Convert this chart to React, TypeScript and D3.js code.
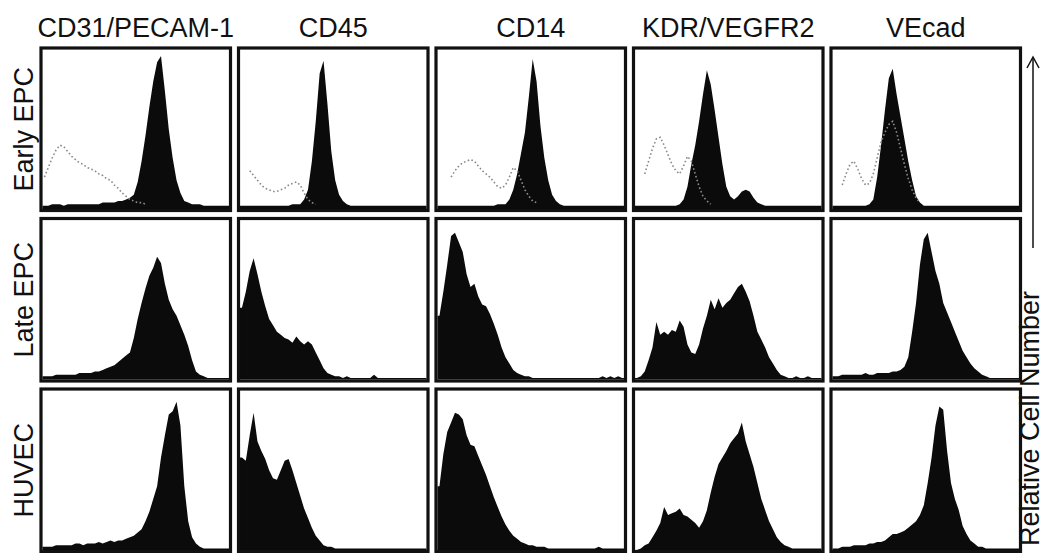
import React from "react";
import * as d3 from "d3";

// Flow cytometry histograms: rows are cell populations, columns are surface markers.
// Each series holds 48 channel bins (log fluorescence, left to right), as % of panel height.

const cellTypes = ["Early EPC", "Late EPC", "HUVEC"];
const markers = ["CD31/PECAM-1", "CD45", "CD14", "KDR/VEGFR2", "VEcad"];
const yAxisLabel = "Relative Cell Number";

// Early EPC — stained
const earlyCD31 = [2,2,3,3,3,2,3,3,3,3,3,3,3,3,3,4,4,4,4,5,5,6,7,9,17,30,46,64,80,92,96,74,50,32,18,10,5,4,3,3,3,2,2,2,2,2,2,2];
const earlyCD45 = [2,2,2,2,2,2,2,2,2,2,2,2,2,3,3,3,6,12,30,55,85,93,66,36,18,9,5,3,2,2,2,2,2,2,2,2,2,2,2,2,2,2,2,2,2,2,2,2];
const earlyCD14 = [2,2,2,2,2,2,2,2,2,2,2,2,2,2,2,3,3,3,6,12,22,35,48,70,94,80,52,32,18,9,5,3,2,2,2,2,2,2,2,2,2,2,2,2,2,2,2,2];
const earlyKDR = [2,2,2,2,2,2,2,2,2,2,2,3,6,14,28,40,55,72,87,78,62,45,28,14,8,6,8,11,12,11,7,4,3,2,2,2,2,2,2,2,2,2,2,2,2,2,2,2];
const earlyVEcad = [2,2,2,2,2,2,2,2,2,3,6,20,40,62,82,88,72,58,44,30,18,8,4,2,2,2,2,2,2,2,2,2,2,2,2,2,2,2,2,2,2,2,2,2,2,2,2,2];

// Early EPC — isotype controls (null = no events drawn)
const isoCD31 = [20,26,32,37,40,39,36,33,31,29,28,26,25,24,22,21,19,18,15,13,10,8,6,5,4,4,3,null,null,null,null,null,null,null,null,null,null,null,null,null,null,null,null,null,null,null,null,null];
const isoCD45 = [null,null,24,21,18,15,13,12,11,11,12,13,15,16,17,15,10,6,4,3,null,null,null,null,null,null,null,null,null,null,null,null,null,null,null,null,null,null,null,null,null,null,null,null,null,null,null,null];
const isoCD14 = [null,null,null,20,24,27,29,30,31,30,27,24,22,20,17,14,13,15,20,26,24,18,12,8,5,4,null,null,null,null,null,null,null,null,null,null,null,null,null,null,null,null,null,null,null,null,null,null];
const isoKDR = [null,null,22,30,38,44,45,40,34,28,24,22,27,33,30,22,14,8,5,3,null,null,null,null,null,null,null,null,null,null,null,null,null,null,null,null,null,null,null,null,null,null,null,null,null,null,null,null];
const isoVEcad = [null,null,15,22,28,30,25,19,15,16,22,32,42,48,53,55,48,38,28,19,12,7,4,null,null,null,null,null,null,null,null,null,null,null,null,null,null,null,null,null,null,null,null,null,null,null,null,null];

// Late EPC
const lateCD31 = [2,2,2,3,3,3,3,3,3,4,4,4,4,5,5,6,7,8,9,11,13,15,17,26,38,48,57,65,70,77,73,60,50,44,40,34,28,21,12,5,3,2,1,1,1,1,1,1];
const lateCD45 = [45,55,68,76,66,55,46,38,34,30,28,26,25,23,27,24,22,24,22,17,12,7,4,3,2,2,1,2,1,1,1,1,1,1,3,1,1,1,1,1,1,1,1,1,1,1,1,1];
const lateCD14 = [40,55,72,90,92,86,80,66,58,60,52,47,46,41,35,28,20,14,10,6,4,3,2,2,1,1,1,1,1,1,1,1,1,1,1,1,1,1,1,1,1,1,2,1,2,1,2,1];
const lateKDR = [1,2,5,12,20,36,28,30,28,31,30,37,33,22,17,16,22,32,40,50,44,51,45,48,50,54,58,60,55,49,40,30,25,20,14,10,6,3,2,1,1,2,1,1,2,1,1,1];
const lateVEcad = [2,2,3,3,3,3,3,3,4,3,3,4,4,4,4,5,5,6,8,14,30,48,72,88,92,80,68,60,48,42,36,30,24,18,14,10,7,5,3,2,1,1,1,1,1,1,1,1];

// HUVEC
const huvecCD31 = [2,2,2,3,3,3,3,3,4,4,3,4,4,4,5,4,5,6,5,6,6,7,8,9,11,13,18,24,32,40,58,72,85,87,93,78,40,18,8,4,2,1,1,1,1,1,1,1];
const huvecCD45 = [58,56,72,86,68,62,57,50,45,44,50,56,57,50,42,34,26,20,14,9,6,3,2,2,1,1,1,1,1,1,1,1,1,1,1,1,1,1,1,1,1,1,1,1,1,1,1,1];
const huvecCD14 = [40,60,74,80,86,85,82,72,66,65,59,53,47,40,33,27,21,16,12,9,7,5,4,3,3,2,2,2,1,1,1,1,1,1,1,1,1,1,1,1,1,2,1,1,1,1,1,1];
const huvecKDR = [0,1,3,4,8,12,17,27,22,23,24,26,22,21,19,17,14,18,25,36,46,54,58,62,67,70,73,80,68,60,52,42,32,25,18,13,8,5,3,2,1,1,1,1,1,1,1,1];
const huvecVEcad = [1,1,2,2,2,3,3,3,3,4,4,5,5,6,8,10,10,11,12,14,16,18,22,28,42,58,78,90,88,62,42,32,25,15,10,6,4,2,2,1,1,1,1,1,1,1,1,1];

const stained: number[][][] = [
  [earlyCD31, earlyCD45, earlyCD14, earlyKDR, earlyVEcad],
  [lateCD31, lateCD45, lateCD14, lateKDR, lateVEcad],
  [huvecCD31, huvecCD45, huvecCD14, huvecKDR, huvecVEcad],
];
const controls: (number | null)[][][] = [[isoCD31, isoCD45, isoCD14, isoKDR, isoVEcad], [], []];

const W = 1046;
const H = 553;
const BINS = 48;
const FONT = "'Liberation Sans', Arial, Helvetica, sans-serif";
const INK = "#111";

type Pt = { x: number; v: number };

function Panel({ r, c, x, y, w, h }: { r: number; c: number; x: number; y: number; w: number; h: number }) {
  const inset = 1.5;
  const xs = d3.scaleLinear().domain([0, BINS]).range([x + inset, x + w - inset]);
  const ys = d3.scaleLinear().domain([0, 100]).range([y + h - inset, y + inset]);
  const vals = stained[r][c];
  const pts: Pt[] = [
    { x: 0, v: vals[0] },
    ...vals.map((v, i) => ({ x: i + 0.5, v })),
    { x: BINS, v: vals[BINS - 1] },
  ];
  const area = d3
    .area<Pt>()
    .x((d) => xs(d.x))
    .y0(ys(0))
    .y1((d) => ys(d.v))
    .curve(d3.curveLinear);
  const ctrl = controls[r][c];
  const line = d3
    .line<number | null>()
    .defined((d) => d != null)
    .x((_, i) => xs(i + 0.5))
    .y((d) => ys(d as number));
  const clipId = `clip-${r}-${c}`;
  return (
    <g>
      <clipPath id={clipId}>
        <rect x={x} y={y} width={w} height={h} />
      </clipPath>
      <rect x={x} y={y} width={w} height={h} fill="#fff" />
      <g clipPath={`url(#${clipId})`}>
        <path d={area(pts) || ""} fill="#0b0b0b" />
        {ctrl && (
          <path
            d={line(ctrl) || ""}
            fill="none"
            stroke="#8a8a8a"
            strokeWidth={1.6}
            strokeDasharray="1.6 2.4"
          />
        )}
      </g>
      <rect x={x} y={y} width={w} height={h} fill="none" stroke={INK} strokeWidth={3.2} />
    </g>
  );
}

export default function App() {
  const cols = d3.scaleBand<number>().domain(d3.range(markers.length)).range([41, 1020.5]).paddingInner(0.0405);
  const rows = d3.scaleBand<number>().domain(d3.range(cellTypes.length)).range([48, 551.5]).paddingInner(0.047);

  return (
    <svg
      width={W}
      height={H}
      viewBox={`0 0 ${W} ${H}`}
      style={{ position: "absolute", left: 0, top: 0, display: "block", background: "#fff" }}
    >
      <rect width={W} height={H} fill="#fff" />
      {markers.map((m, c) => (
        <text
          key={m}
          x={(cols(c) as number) + cols.bandwidth() / 2}
          y={37}
          textAnchor="middle"
          fontFamily={FONT}
          fontSize={27}
          fill={INK}
        >
          {m}
        </text>
      ))}
      {cellTypes.map((t, r) => (
        <text
          key={t}
          transform={`translate(33, ${(rows(r) as number) + rows.bandwidth() / 2}) rotate(-90)`}
          textAnchor="middle"
          fontFamily={FONT}
          fontSize={27}
          fill={INK}
        >
          {t}
        </text>
      ))}
      {cellTypes.map((_, r) =>
        markers.map((_, c) => (
          <Panel
            key={`${r}-${c}`}
            r={r}
            c={c}
            x={cols(c) as number}
            y={rows(r) as number}
            w={cols.bandwidth()}
            h={rows.bandwidth()}
          />
        ))
      )}
      <text
        transform="translate(1039, 546) rotate(-90)"
        textAnchor="start"
        fontFamily={FONT}
        fontSize={27}
        fill={INK}
      >
        {yAxisLabel}
      </text>
      <line x1={1033} y1={248} x2={1033} y2={58} stroke={INK} strokeWidth={1.5} />
      <polyline points="1027,68 1033,57 1039,68" fill="none" stroke={INK} strokeWidth={1.5} />
    </svg>
  );
}
